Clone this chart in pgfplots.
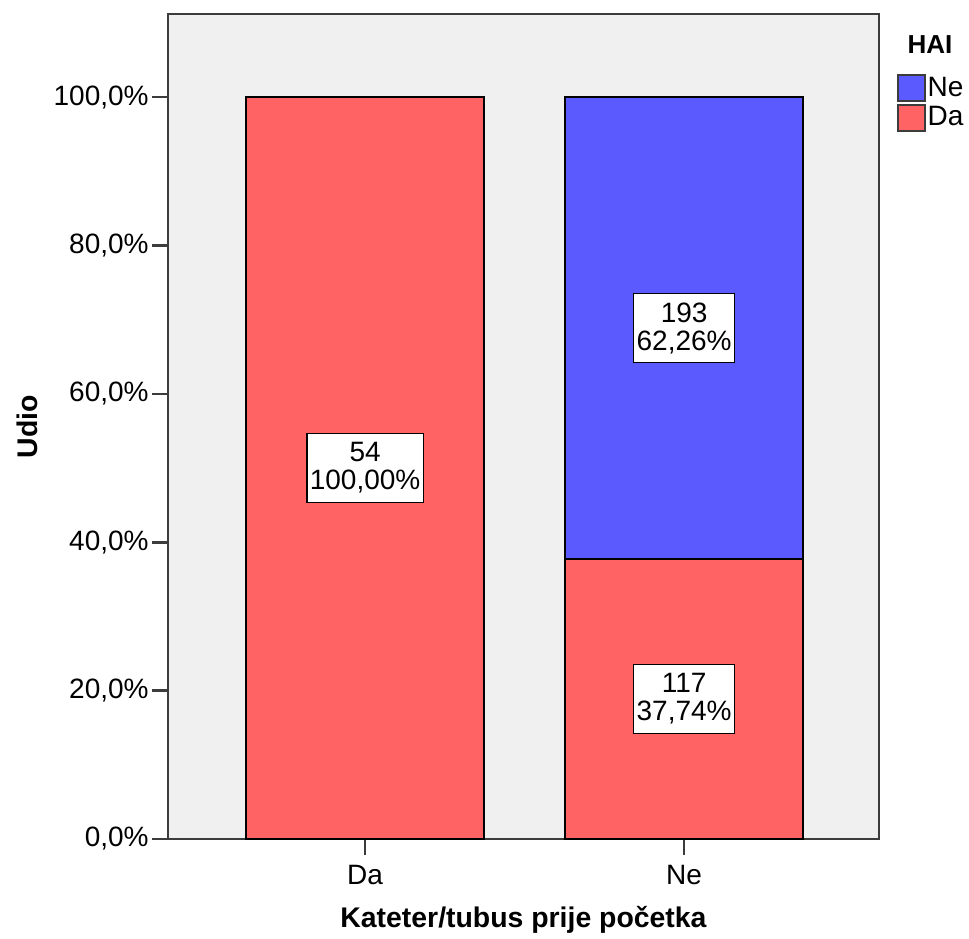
\documentclass[border=0pt]{standalone}
\usepackage{fontspec}
\setmainfont{Liberation Sans}
\usepackage{pgfplots}
\pgfplotsset{compat=1.18}
\usepackage{pgfplotstable}
\definecolor{barred}{RGB}{255,99,99}
\definecolor{barblue}{RGB}{90,90,255}
\definecolor{bggray}{RGB}{240,240,240}
\definecolor{axgray}{RGB}{60,60,60}
\pgfplotstableread{
x da ne
0 100 0
1 37.74 62.26
}\bardata
\begin{document}
\begin{tikzpicture}
\begin{axis}[
  name=main,
  scale only axis, width=355.5pt, height=412.5pt,
  ybar stacked, bar width=0.746,
  xmin=-0.618, xmax=1.611, ymin=0, ymax=111.2,
  xtick={0,1}, xticklabels={Da,Ne},
  ytick={0,20,...,100},
  yticklabel={\pgfmathprintnumber[fixed,fixed zerofill,precision=1,use comma]{\tick}\%},
  /pgf/number format/assume math mode=true,
  axis background/.style={fill=bggray},
  axis line style={draw=axgray, line width=1.3pt},
  tick style={draw=axgray, line width=1.3pt},
  major tick length=8pt, tick align=outside,
  ytick pos=left, xtick pos=lower,
  ticklabel style={font=\fontsize{14}{16}\selectfont},
  yticklabel style={inner sep=1.5pt},
  xticklabel style={inner sep=2pt, yshift=-3pt},
  xlabel={Kateter/tubus prije početka},
  ylabel={Udio},
  label style={font=\fontsize{14.2}{16}\selectfont\bfseries},
  xlabel style={at={(axis description cs:0.5,-0.098)}, anchor=center},
  ylabel style={at={(axis description cs:-0.198,0.5)}, anchor=center},
  legend style={at={(1,1)}, anchor=north west, xshift=9pt, yshift=-30pt,
    draw=none, fill=none, inner sep=0pt, row sep=1pt,
    font=\fontsize{14}{16}\selectfont,
    nodes={inner sep=0.8pt}},
  legend cell align=left,
  reverse legend,
  legend image code/.code={\draw[#1, draw=axgray, line width=0.8pt] (0pt,-6.5pt) rectangle (13.5pt,6.5pt);},
]
\addplot[fill=barred, draw=black, line width=0.7pt] table[x=x, y=da] {\bardata};
\addlegendentry{Da}
\addplot[fill=barblue, draw=black, line width=0.7pt] table[x=x, y=ne] {\bardata};
\addlegendentry{Ne}
\end{axis}
\begin{axis}[
  scale only axis, width=355.5pt, height=412.5pt,
  xmin=-0.618, xmax=1.611, ymin=0, ymax=111.2,
  hide axis,
]
\addplot[only marks, mark=none, point meta=explicit symbolic,
  nodes near coords,
  nodes near coords style={anchor=center, fill=white, draw=black, line width=0.7pt,
    align=center, inner xsep=1.5pt, inner ysep=4.5pt,
    font=\fontsize{14}{14}\selectfont}]
  table[x=x, y=y, meta=lab] {
x y lab
0 50 {54\\100,00\%}
1 18.87 {117\\37,74\%}
1 68.87 {193\\62,26\%}
};
\end{axis}
\node[font=\fontsize{13}{15}\selectfont\bfseries] at ([xshift=25.5pt,yshift=-15.5pt]main.north east) {HAI};
\pgfresetboundingbox
\path ([xshift=-84pt,yshift=-49.5pt]main.south west) rectangle ([xshift=45pt,yshift=7pt]main.north east);
\end{tikzpicture}
\end{document}
